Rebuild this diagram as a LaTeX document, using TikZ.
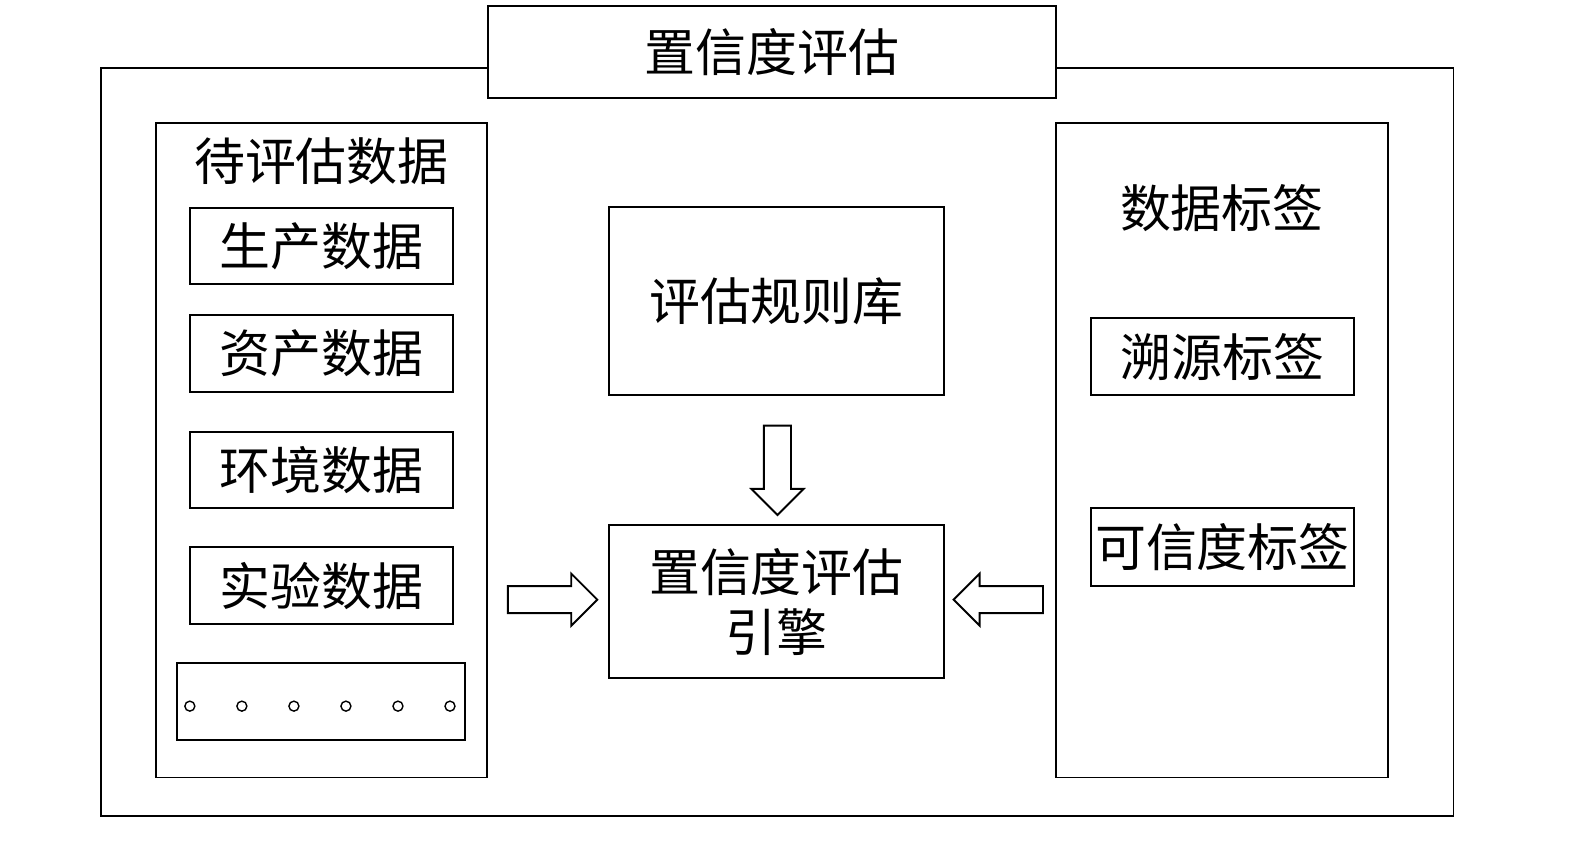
\documentclass[tikz,border=0pt]{standalone}
\usepackage{fontspec}
\newfontfamily\cjk{Noto Sans CJK SC}
\usetikzlibrary{shapes.arrows,positioning}
\def\u{0.020089cm}
\tikzstyle{every node}=[font=\cjk\fontsize{29}{34}\selectfont,inner sep=0pt]
\tikzstyle{box}=[draw=black,line width=1.1pt,fill=white]
\tikzstyle{item}=[box,minimum width=262*\u,minimum height=76*\u]
\tikzstyle{fatarrow}=[draw=black,line width=1.1pt,single arrow,minimum height=89*\u,
          inner sep=12.5*\u,single arrow head extend=12.5*\u,anchor=tip]

\begin{document}
\begin{tikzpicture}[x=\u,y=-\u]
          \useasboundingbox (0,0) rectangle (1568,842);
          % outer frame and title
          \node[box,minimum width=1346*\u,minimum height=744*\u] (frame) at (774,440) {};
          \node[box,minimum width=565*\u,minimum height=92*\u] (title) at (768.5,52) {置信度评估};
          % data to be evaluated
          \node[box,minimum width=330*\u,minimum height=652*\u] (L) at (320,448) {};
          \node (Lhead) at (320,160) {待评估数据};
          \node[item] (L1) at (320,245) {生产数据};
          \node[item] (L2) at (320,352) {资产数据};
          \node[item] (L3) at (320,468) {环境数据};
          \node[item] (L4) at (320,583) {实验数据};
          \node[box,minimum width=287*\u,minimum height=77*\u] (L5) at (319.5,698.5) {};
          \foreach \i in {0,...,5}
            \draw[line width=0.8pt] (189+51.8*\i,703) circle[radius=0.1cm];
          % rules and engine
          \node[box,minimum width=334*\u,minimum height=187*\u] (rules) at (773,299.5) {评估规则库};
          \node[box,minimum width=334*\u,minimum height=152*\u,align=center] (engine) at (773,599)
            {置信度评估\\引擎};
          % data labels
          \node[box,minimum width=331*\u,minimum height=652*\u] (R) at (1216.5,448) {};
          \node (Rhead) at (1216.5,207) {数据标签};
          \node[item] (R1) at (1217,355) {溯源标签};
          \node[item,minimum height=77*\u] (R2) at (1217,544.5) {可信度标签};
          % arrows
          \node[fatarrow] (a1) at (596,597) {};
          \node[fatarrow,shape border rotate=180] (a2) at (948,597) {};
          \node[fatarrow,shape border rotate=270] (a3) at (774,514) {};
\end{tikzpicture}
\end{document}
